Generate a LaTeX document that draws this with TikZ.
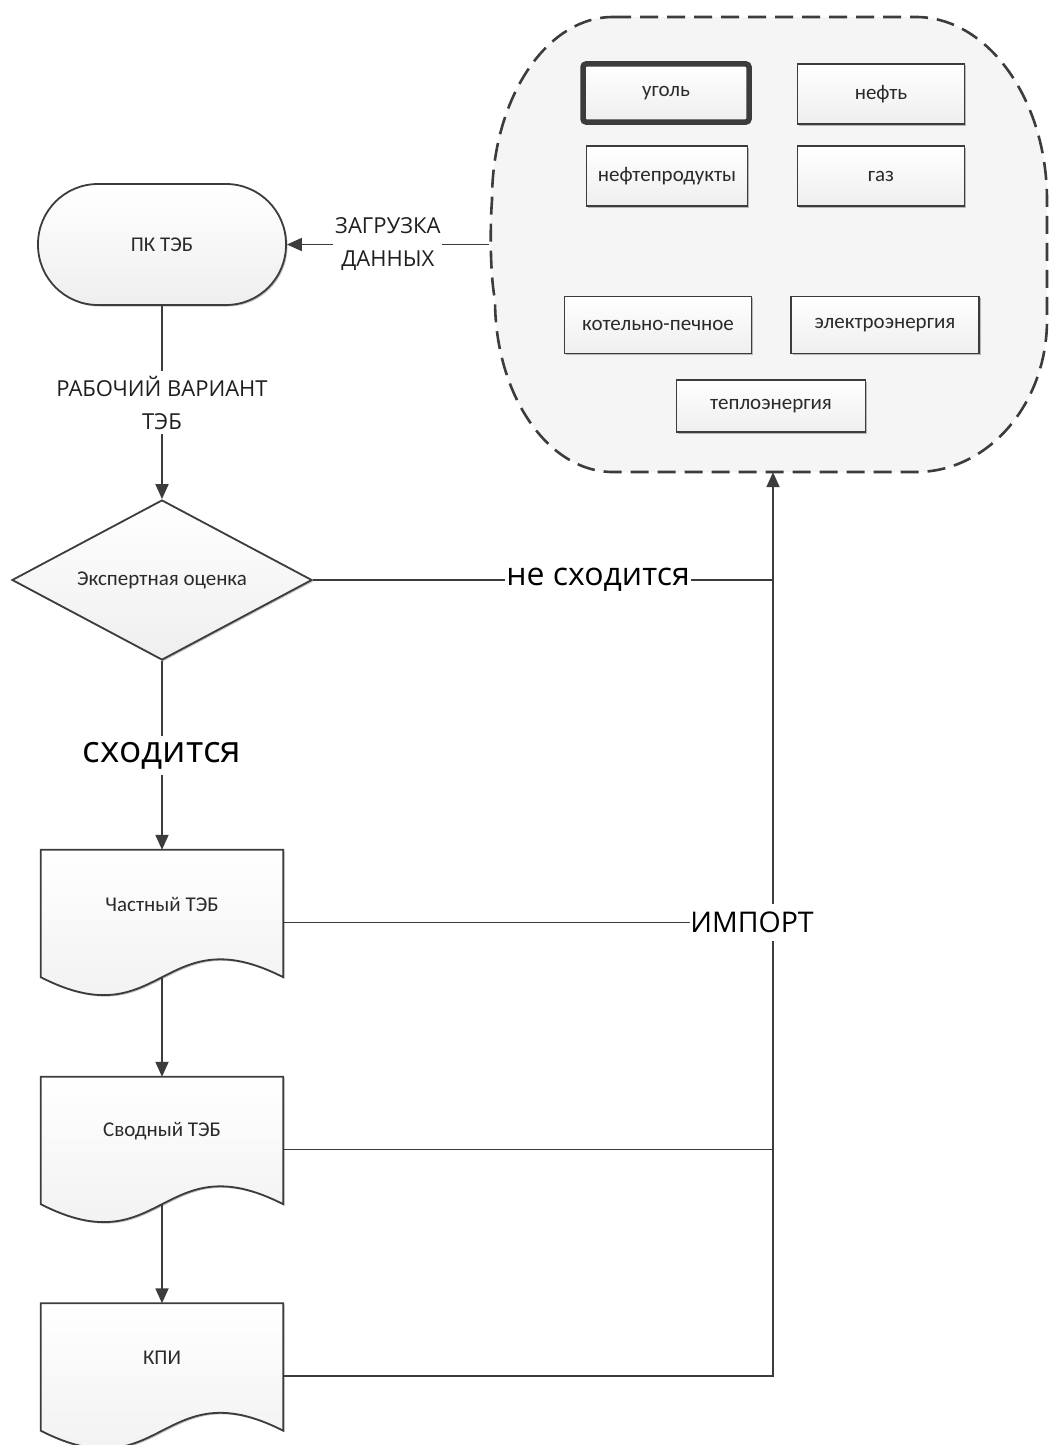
\documentclass[tikz,border=0pt]{standalone}
\usepackage{fontspec}
\setmainfont{Carlito}
\newfontfamily\lblfont{Open Sans}
\usetikzlibrary{arrows.meta,shapes.geometric,shadows,calc}

\definecolor{ink}{HTML}{3C3C3C}
\definecolor{txt}{HTML}{2A2A2A}

% document symbol with a wavy lower edge, drawn over an invisible node
\newcommand{\docoutline}[1]{%
  \path[docfill] (#1.north west) -- ($(#1.south west)+(0,-18)$)
    .. controls ($(#1.south)+(0,44)$) and ($(#1.south)+(0,-80)$) ..
    ($(#1.south east)+(0,-18)$) -- (#1.north east) -- cycle;}

\begin{document}
\begin{tikzpicture}[x=1pt,y=-1pt,
  softshadow/.style={drop shadow={shadow xshift=1.5pt,shadow yshift=-1.5pt,opacity=0.25,fill=black}},
  shaded/.style={top color=white,bottom color=gray!13},
  boxtext/.style={font=\fontsize{21}{24}\selectfont,text=txt},
  fuel/.style={draw=ink,line width=1.8pt,shaded,softshadow,boxtext,
    inner sep=0pt,minimum height=58pt},
  region/.style={draw=ink,line width=2.6pt,dash pattern=on 18pt off 9pt,fill=gray!8},
  terminal/.style={draw=ink,line width=1.8pt,shaded,softshadow,boxtext,
    rounded corners=60pt,minimum width=248pt,minimum height=121pt},
  decision/.style={diamond,aspect=1.875,draw=ink,line width=1.8pt,shaded,softshadow,boxtext,
    inner sep=0pt,minimum width=300pt,minimum height=160pt},
  docnode/.style={minimum width=242pt,minimum height=145pt,inner sep=0pt},
  docfill/.style={draw=ink,line width=1.8pt,shaded,softshadow},
  doctext/.style={font=\fontsize{21}{24}\selectfont,text=txt,yshift=18pt},
  line/.style={draw=ink,line width=1.8pt},
  conn/.style={line,-{Triangle[length=15pt,width=13pt]}},
  lbl/.style={font=\lblfont\fontsize{22}{33}\selectfont,text=black!88,
    fill=white,align=center,inner xsep=2pt,inner ysep=5pt},
  biglbl/.style={font=\lblfont\fontsize{32}{36}\selectfont,text=black,
    fill=white,inner xsep=1pt,inner ysep=6pt},
]
\useasboundingbox (0,0) rectangle (1049,1445);

% container of the fuel and energy kinds
\node[minimum width=558pt,minimum height=455pt,inner sep=0pt] (src) at (768,244.5) {};
\path[region] (613,17) -- (916,17)
  .. controls (988,17) and (1047,100) .. (1047,200) -- (1047,320)
  .. controls (1047,404) and (988,472) .. (916,472) -- (613,472)
  .. controls (548,472) and (495,395) .. (495,300)
  .. controls (490,275) and (490,225) .. (492,200)
  .. controls (492,99) and (546,17) .. (613,17) -- cycle;

\node[fuel,line width=5.5pt,rounded corners=3pt,minimum width=166pt] (ugol) at (666,93) {уголь};
\node[fuel,minimum width=167pt,minimum height=60pt] (neft) at (881,94) {нефть};
\node[fuel,minimum width=161pt,minimum height=60pt] (nprod) at (667,176) {нефтепродукты};
\node[fuel,minimum width=167pt,minimum height=60pt] (gaz) at (881,176) {газ};
\node[fuel,minimum width=187pt,minimum height=57pt] (kotel) at (658,325) {котельно-печное};
\node[fuel,minimum width=188pt,minimum height=57pt] (elek) at (885,325) {электроэнергия};
\node[fuel,minimum width=189pt,minimum height=52pt] (teplo) at (771,406) {теплоэнергия};

% main flow
\node[terminal] (pk) at (162,244.5) {ПК ТЭБ};
\node[decision] (dia) at (162,580) {Экспертная оценка};

\node[docnode] (chast) at (162,922.5) {};
\docoutline{chast}
\node[doctext] at (chast.center) {Частный ТЭБ};

\node[docnode] (svod) at (162,1149.5) {};
\docoutline{svod}
\node[doctext] at (svod.center) {Сводный ТЭБ};

\node[docnode] (kpi) at (162,1376) {};
\docoutline{kpi}
\node[doctext] at (kpi.center) {КПИ};

\coordinate (jn) at (773,1376);

% connectors
\draw[conn] (src.west) -- node[lbl] {ЗАГРУЗКА\\ДАННЫХ} (pk.east);
\draw[conn] (pk.south) -- node[lbl] {РАБОЧИЙ ВАРИАНТ\\ТЭБ} (dia.north);
\draw[conn] (dia.south) -- node[biglbl,font=\lblfont\fontsize{37}{40}\selectfont] {сходится} (chast.north);
\draw[conn] ($(chast.south)+(0,-18)$) -- (svod.north);
\draw[conn] ($(svod.south)+(0,-18)$) -- (kpi.north);

\draw[conn] (kpi.east) -- (jn) -- (jn |- src.south);
\draw[line] (svod.east) -- (svod.east -| jn);
\draw[line] (dia.east) -- node[biglbl,pos=0.62] {не сходится} (dia.east -| jn);

\node[biglbl,font=\lblfont\fontsize{28.5}{34}\selectfont,inner xsep=0pt,inner ysep=8pt]
  (imp) at ($(chast.east -| jn)+(-21,0)$) {ИМПОРТ};
\draw[line] (chast.east) -- (imp.west);
\end{tikzpicture}
\end{document}
